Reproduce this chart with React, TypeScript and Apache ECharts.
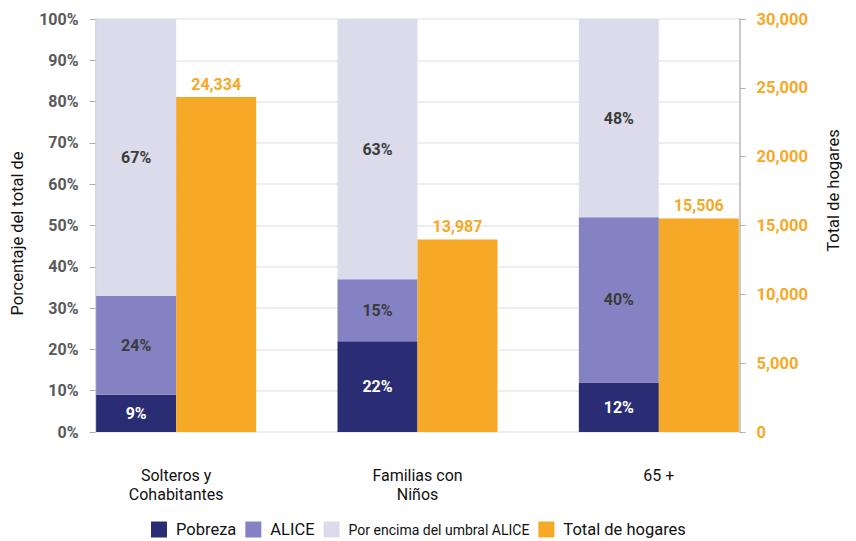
import React, { useEffect, useRef } from "react";
import * as echarts from "echarts";

const categories = ["Solteros y\nCohabitantes", "Familias con\nNiños", "65 +"];
const pobreza = [9, 22, 12];
const alice = [24, 15, 40];
const encima = [67, 63, 48];
const totalHogares = [24334, 13987, 15506];
const legendNames = ["Pobreza", "ALICE", "Por encima del umbral ALICE", "Total de hogares"];

const C_POB = "#2a2c74";
const C_ALICE = "#8582c4";
const C_ENC = "#dcdbeb";
const C_ORANGE = "#f6a827";
const FONT = "Roboto";

const fmtNum = (v: number) => v.toLocaleString("en-US");

export default function App() {
  const ref = useRef<HTMLDivElement>(null);
  useEffect(() => {
    if (!ref.current) return;
    const chart = echarts.init(ref.current, null, { renderer: "svg" });
    const pctLabel = (color: string) => ({
      show: true,
      position: "inside" as const,
      color,
      fontFamily: FONT,
      fontWeight: "bold" as const,
      fontSize: 16,
      formatter: "{c}%",
    });
    chart.setOption({
      animation: false,
      textStyle: { fontFamily: FONT },
      legend: {
        data: legendNames,
        left: 146,
        top: 516,
        itemWidth: 16,
        itemHeight: 16,
        itemGap: 9,
        icon: "rect",
        formatter: (name: string) =>
          name === "Por encima del umbral ALICE" ? `{s|${name}}` : `{b|${name}}`,
        textStyle: {
          color: "#111",
          padding: [0, 0, 0, 4],
          rich: {
            b: { fontSize: 16.5, fontFamily: FONT, color: "#111" },
            s: { fontSize: 14, fontFamily: FONT, color: "#111" },
          },
        },
      },
      grid: [
        { left: 55.5, right: 76.5, top: 19, bottom: 109 },
        { left: 95.5, right: 116.5, top: 19, bottom: 109 },
      ],
      xAxis: [
        {
          type: "category",
          gridIndex: 0,
          data: categories,
          axisLine: { show: false },
          axisTick: { show: false },
          axisLabel: {
            margin: 34,
            fontSize: 16,
            lineHeight: 19,
            color: "#111",
            fontFamily: FONT,
          },
        },
        {
          type: "value",
          gridIndex: 1,
          min: 0,
          max: 1,
          show: false,
        },
      ],
      yAxis: [
        { type: "value", gridIndex: 0, min: 0, max: 100, show: false },
        { type: "value", gridIndex: 0, min: 0, max: 30000, show: false },
        {
          type: "value",
          gridIndex: 1,
          position: "left",
          min: 0,
          max: 100,
          interval: 10,
          name: "Porcentaje del total de",
          nameLocation: "middle",
          nameRotate: 90,
          nameGap: 70,
          nameTextStyle: { fontSize: 16.5, color: "#111", fontFamily: FONT, padding: [0, 16, 0, 0] },
          axisLine: { show: true, lineStyle: { color: "#c8c8c8", width: 1.5 } },
          axisTick: { show: true, length: 6, lineStyle: { color: "#b0b0b0" } },
          axisLabel: {
            formatter: "{value}%",
            color: "#58595b",
            fontWeight: "bold",
            fontSize: 16,
            fontFamily: FONT,
            margin: 17,
          },
          splitLine: { show: true, lineStyle: { color: "#e8e8e8", width: 1.5 } },
        },
        {
          type: "value",
          gridIndex: 1,
          position: "right",
          min: 0,
          max: 30000,
          interval: 5000,
          name: "Total de hogares",
          nameLocation: "middle",
          nameRotate: 90,
          nameGap: 85,
          nameTextStyle: { fontSize: 16.5, color: "#111", fontFamily: FONT, padding: [0, 0, 0, 70] },
          axisLine: { show: true, lineStyle: { color: "#b8b8b8", width: 1.5 } },
          axisTick: { show: true, length: 6, lineStyle: { color: "#b0b0b0" } },
          axisLabel: {
            formatter: (v: number) => fmtNum(v),
            color: C_ORANGE,
            fontWeight: "bold",
            fontSize: 16.5,
            fontFamily: FONT,
            margin: 17,
          },
          splitLine: { show: false },
        },
      ],
      series: [
        {
          name: "Pobreza",
          type: "bar",
          xAxisIndex: 0,
          yAxisIndex: 0,
          stack: "pct",
          barWidth: 80,
          barGap: "0%",
          data: pobreza,
          itemStyle: { color: C_POB },
          label: pctLabel("#ffffff"),
        },
        {
          name: "ALICE",
          type: "bar",
          xAxisIndex: 0,
          yAxisIndex: 0,
          stack: "pct",
          barWidth: 80,
          barGap: "0%",
          data: alice,
          itemStyle: { color: C_ALICE },
          label: pctLabel("#3b3b3b"),
        },
        {
          name: "Por encima del umbral ALICE",
          type: "bar",
          xAxisIndex: 0,
          yAxisIndex: 0,
          stack: "pct",
          barWidth: 80,
          barGap: "0%",
          data: encima,
          itemStyle: { color: C_ENC },
          label: pctLabel("#3b3b3b"),
        },
        {
          name: "Total de hogares",
          type: "bar",
          xAxisIndex: 0,
          yAxisIndex: 1,
          barWidth: 80,
          barGap: "0%",
          data: totalHogares,
          itemStyle: { color: C_ORANGE },
          label: {
            show: true,
            position: "top",
            distance: 5,
            color: C_ORANGE,
            fontWeight: "bold",
            fontSize: 16,
            fontFamily: FONT,
            formatter: (p: any) => fmtNum(p.value),
          },
        },
      ],
    });
    return () => chart.dispose();
  }, []);
  return <div ref={ref} style={{ width: 856, height: 541, position: "absolute", left: 0, top: 0 }} />;
}
